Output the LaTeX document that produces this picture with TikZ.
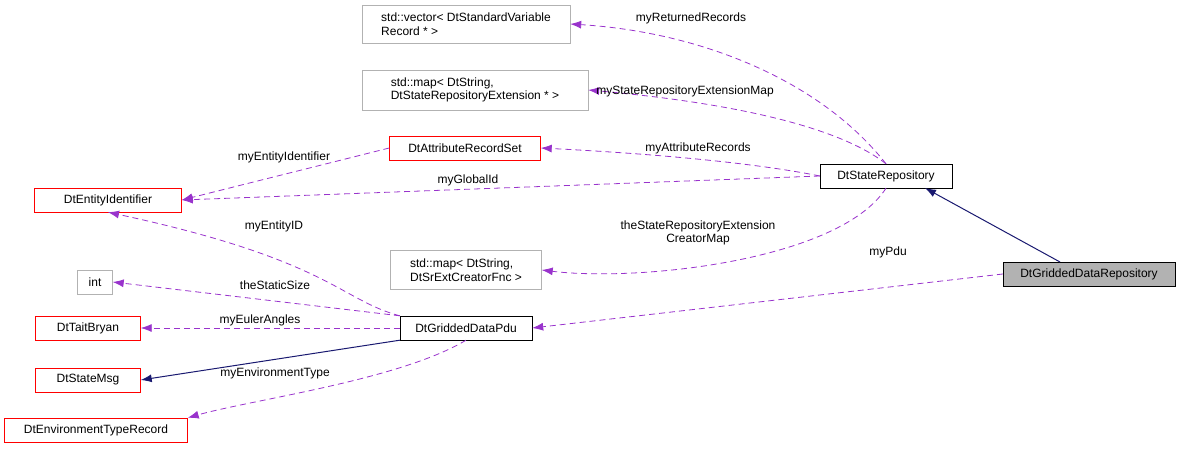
\documentclass[tikz,border=0pt]{standalone}
\usepackage{fontspec}
\setmainfont{Liberation Sans}
\usetikzlibrary{arrows.meta}
\definecolor{edgepurple}{RGB}{153,51,204}
\definecolor{edgenavy}{RGB}{25,25,112}
\tikzset{
  cls/.style={draw=black, fill=white, inner sep=3pt, align=center, font=\fontsize{12}{13.5}\selectfont},
  redcls/.style={cls, draw=red},
  extcls/.style={cls, draw=gray!60, align=left},
  usage/.style={draw=edgepurple, line width=0.8pt, dash pattern=on 6pt off 4pt, -{Latex[length=11pt,width=8pt]}},
  inherit/.style={draw=edgenavy, -{Latex[length=11pt,width=8pt]}, line width=1pt},
  lbl/.style={font=\fontsize{12}{13.5}\selectfont, align=center, inner sep=1pt}
}
\begin{document}
\begin{tikzpicture}[x=1pt,y=-1pt]
  \useasboundingbox (0,0) rectangle (1181,449);
  % classes
  \node[extcls, minimum width=208pt, minimum height=38pt] (vec) at (466,24) {std::vector\textless{} DtStandardVariable\\Record * \textgreater};
  \node[extcls, minimum width=226pt, minimum height=40pt] (srmap) at (475,90) {std::map\textless{} DtString,\\DtStateRepositoryExtension * \textgreater};
  \node[redcls, minimum width=151pt, minimum height=24pt] (attr) at (465,148) {DtAttributeRecordSet};
  \node[redcls, minimum width=147pt, minimum height=24pt] (eid) at (108,200) {DtEntityIdentifier};
  \node[cls, minimum width=132pt, minimum height=24pt] (sr) at (886,176) {DtStateRepository};
  \node[extcls, minimum width=151pt, minimum height=39pt] (crmap) at (466,270) {std::map\textless{} DtString,\\DtSrExtCreatorFnc \textgreater};
  \node[extcls, minimum width=35pt, minimum height=24pt] (int) at (95,282) {int};
  \node[redcls, minimum width=105pt, minimum height=24pt] (tait) at (88,328) {DtTaitBryan};
  \node[cls, minimum width=132pt, minimum height=24pt] (pdu) at (466,328) {DtGriddedDataPdu};
  \node[redcls, minimum width=105pt, minimum height=24pt] (smsg) at (88,380) {DtStateMsg};
  \node[redcls, minimum width=183pt, minimum height=24pt] (etr) at (96,430) {DtEnvironmentTypeRecord};
  \node[cls, fill=gray!60, minimum width=172pt, minimum height=24pt] (gdr) at (1089,274) {DtGriddedDataRepository};
  \coordinate (gdrtop) at (1060,262);
  \coordinate (srbot) at (925,188);
  % members of DtStateRepository
  \draw[usage] (sr.north) .. controls (820,80) and (700,32) .. (vec.east);
  \draw[usage] (sr.north) .. controls (830,120) and (700,100) .. (srmap.east);
  \draw[usage] (sr.west) .. controls (740,160) and (620,152) .. (attr.east);
  \draw[usage] (sr.west) -- (eid.east);
  \draw[usage] (sr.south) .. controls (840,260) and (640,282) .. (crmap.east);
  \draw[usage] (attr.west) -- (eid.east);
  % DtGriddedDataRepository
  \draw[inherit] (gdrtop) -- (srbot);
  \draw[usage] (gdr.west) -- (pdu.east);
  % members of DtGriddedDataPdu
  \draw[usage] (pdu.north west) .. controls (340,300) and (330,260) .. (eid.south);
  \draw[usage] (pdu.north west) -- (int.east);
  \draw[usage] (pdu.west) -- (tait.east);
  \draw[inherit] (pdu.south west) -- (smsg.east);
  \draw[usage] (pdu.south) .. controls (400,380) and (250,400) .. (etr.north east);
  % labels
  \node[lbl] at (691,18) {myReturnedRecords};
  \node[lbl] at (685,91) {myStateRepositoryExtensionMap};
  \node[lbl] at (698,148) {myAttributeRecords};
  \node[lbl] at (468,180) {myGlobalId};
  \node[lbl] at (284,157) {myEntityIdentifier};
  \node[lbl] at (698,233) {theStateRepositoryExtension\\CreatorMap};
  \node[lbl] at (888,252) {myPdu};
  \node[lbl] at (274,226) {myEntityID};
  \node[lbl] at (275,285) {theStaticSize};
  \node[lbl] at (260,320) {myEulerAngles};
  \node[lbl] at (275,373) {myEnvironmentType};
\end{tikzpicture}
\end{document}
